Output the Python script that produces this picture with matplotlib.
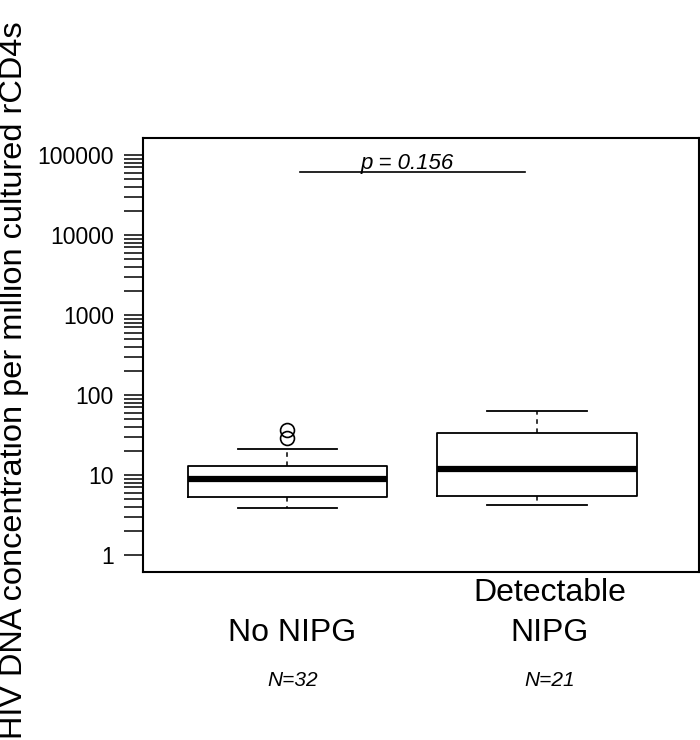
"""Boxplot of HIV DNA per million cultured rCD4s, NIPG groups (R base-graphics look)."""

import matplotlib

matplotlib.use("Agg")
import matplotlib.pyplot as plt
from matplotlib.ticker import NullFormatter, FixedLocator

plt.rcParams["font.family"] = ["Liberation Sans", "DejaVu Sans"]

groups = [["No NIPG"], ["Detectable", "NIPG"]]
counts = ["N=32", "N=21"]
whislo = [3.9, 4.2]
q1 = [5.3, 5.45]
medians = [8.9, 11.9]
q3 = [12.9, 33.5]
whishi = [21.0, 63.0]
outliers = [[29.0, 36.0], []]
p_text = "p = 0.156"
p_level = 61000

stats = []
for i in range(len(groups)):
    stats.append({
        "whislo": whislo[i], "q1": q1[i], "med": medians[i], "q3": q3[i],
        "whishi": whishi[i], "fliers": outliers[i], "label": "",
    })

fig = plt.figure(figsize=(7.0, 7.4), dpi=100)
ax = fig.add_axes([143 / 700, 168 / 740, 556 / 700, 434 / 740])

positions = [1, 2]
ax.bxp(
    stats, positions=positions, widths=0.8, showfliers=True,
    boxprops=dict(color="black", linewidth=1.3),
    medianprops=dict(color="black", linewidth=4.5, solid_capstyle="butt"),
    whiskerprops=dict(color="black", linewidth=1.1, linestyle=(0, (3, 3))),
    capprops=dict(color="black", linewidth=1.3),
    capwidths=0.4,
    flierprops=dict(marker="o", markersize=10, markerfacecolor="none",
                    markeredgecolor="black", markeredgewidth=1.2),
)

ax.set_yscale("log")
ax.set_ylim(10 ** -0.2125, 10 ** 5.2125)
ax.set_xlim(0.421, 2.649)

major = [1, 10, 100, 1000, 10000, 100000]
minor = [m * 10 ** k for k in range(5) for m in range(2, 10)]
ax.yaxis.set_major_locator(FixedLocator(major))
ax.set_yticklabels([str(v) for v in major])
ax.yaxis.set_minor_locator(FixedLocator(minor))
ax.yaxis.set_minor_formatter(NullFormatter())
ax.tick_params(axis="y", which="both", direction="out", length=14, width=1.1,
               labelsize=16.5, pad=7)
ax.set_xticks([])
for side in ("left", "right", "top", "bottom"):
    ax.spines[side].set_linewidth(1.5)

# significance bar
ax.plot([1.05, 1.952], [p_level, p_level], color="black", linewidth=1.2)
ax.text(1.48, p_level * 1.09, p_text, ha="center", va="baseline", fontsize=16,
        style="italic")

# group labels and counts below the axes (axes spans 434 px, bottom at 572 px)
trans = ax.get_xaxis_transform()
label_x = [1.02, 2.05]
for x, lines, n in zip(label_x, groups, counts):
    for j, line in enumerate(reversed(lines)):
        y_px = 633 - 40 * j
        ax.text(x, (572 - y_px) / 434, line, transform=trans, ha="center",
                va="center", fontsize=23, clip_on=False)
    ax.text(x, (572 - 680) / 434, n, transform=trans, ha="center", va="center",
            fontsize=15, style="italic", clip_on=False)

fig.text(22 / 700, 1 / 740, "HIV DNA concentration per million cultured rCD4s",
         rotation=90, rotation_mode="anchor", ha="left", va="baseline",
         fontsize=23.4)

fig.savefig("out.png", dpi=100)
